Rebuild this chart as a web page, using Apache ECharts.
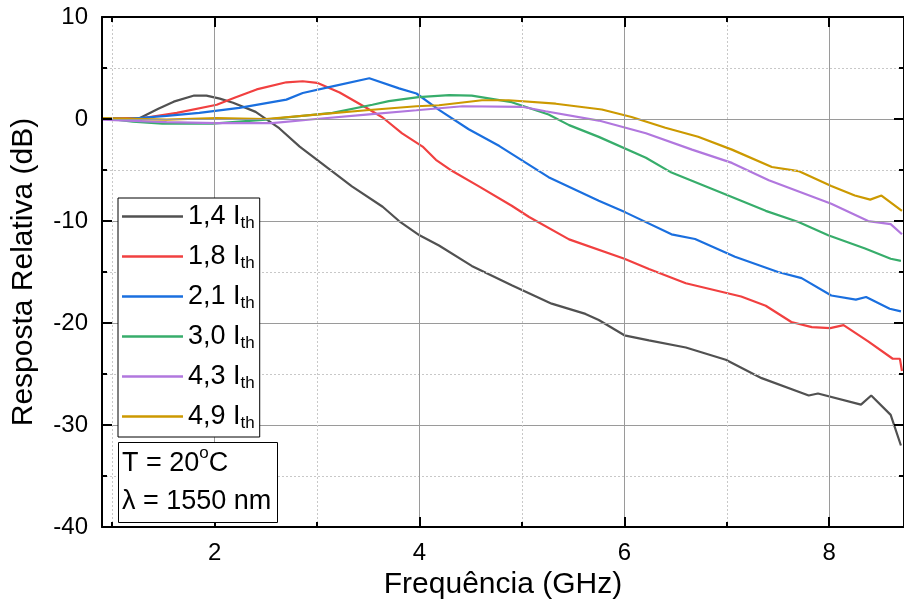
<!DOCTYPE html>
<html>
<head>
<meta charset="utf-8">
<script src="https://cdn.jsdelivr.net/npm/echarts@6/dist/echarts.min.js"></script>
<style>html,body{margin:0;padding:0;background:#fff}#c{width:904px;height:605px}</style>
</head>
<body>
<div id="c"></div>
<script>
// ---- data ----
const legendLabels = ['1,4', '1,8', '2,1', '3,0', '4,3', '4,9'];
const colors = ['#515151', '#F14040', '#1A6FDF', '#37AD6B', '#B177DE', '#CC9900'];

const f14 = [0.9, 1.05, 1.27, 1.45, 1.6, 1.8, 1.92, 2.05, 2.18, 2.4, 2.63, 2.83, 3.09, 3.34, 3.64, 3.8, 4.0, 4.19, 4.51, 4.9, 5.29, 5.62, 5.75, 6.0, 6.24, 6.6, 6.99, 7.34, 7.8, 7.89, 8.31, 8.41, 8.6, 8.70];
const r14 = [0.1, 0.05, 0.1, 1.0, 1.7, 2.3, 2.3, 2.0, 1.6, 0.7, -0.9, -2.7, -4.7, -6.6, -8.6, -10.0, -11.4, -12.4, -14.4, -16.3, -18.1, -19.1, -19.7, -21.2, -21.7, -22.4, -23.6, -25.4, -27.1, -26.9, -28.0, -27.1, -29.0, -32.0];

const f18 = [0.9, 1.27, 1.63, 2.02, 2.2, 2.41, 2.70, 2.86, 3.0, 3.22, 3.48, 3.64, 3.83, 4.03, 4.16, 4.32, 4.58, 4.9, 5.07, 5.46, 6.0, 6.24, 6.6, 7.14, 7.38, 7.63, 7.83, 8.01, 8.14, 8.38, 8.62, 8.69, 8.71];
const r18 = [0.1, 0.05, 0.6, 1.4, 2.1, 2.9, 3.6, 3.7, 3.55, 2.6, 1.1, 0.15, -1.4, -2.7, -4.0, -5.1, -6.6, -8.5, -9.6, -11.8, -13.7, -14.7, -16.1, -17.4, -18.3, -19.9, -20.4, -20.5, -20.2, -21.8, -23.5, -23.5, -24.7];

const f21 = [0.9, 1.14, 1.53, 1.85, 2.24, 2.70, 2.86, 3.15, 3.51, 3.80, 3.97, 4.19, 4.48, 4.78, 5.26, 5.75, 6.01, 6.46, 6.69, 7.08, 7.5, 7.73, 8.02, 8.26, 8.36, 8.59, 8.70];
const r21 = [0.1, 0.0, 0.3, 0.6, 1.1, 1.9, 2.55, 3.2, 4.0, 3.0, 2.5, 0.9, -1.0, -2.65, -5.7, -8.0, -9.15, -11.3, -11.76, -13.5, -15.0, -15.6, -17.3, -17.7, -17.45, -18.6, -18.85];

const f30 = [0.9, 1.2, 1.49, 1.98, 2.5, 3.15, 3.54, 3.7, 3.99, 4.29, 4.51, 4.9, 5.26, 5.46, 5.75, 6.21, 6.46, 6.99, 7.38, 7.70, 7.99, 8.35, 8.6, 8.70];
const r30 = [0.1, -0.25, -0.45, -0.45, -0.05, 0.6, 1.4, 1.75, 2.15, 2.35, 2.3, 1.65, 0.45, -0.6, -1.75, -3.8, -5.25, -7.4, -9.0, -10.1, -11.4, -12.7, -13.7, -13.9];

const f43 = [0.9, 1.53, 2.02, 2.56, 2.99, 3.48, 3.97, 4.42, 5.0, 5.23, 5.75, 6.21, 6.66, 7.05, 7.41, 8.02, 8.38, 8.6, 8.71];
const r43 = [-0.05, -0.3, -0.4, -0.4, 0, 0.44, 0.86, 1.25, 1.2, 0.76, -0.15, -1.4, -3.0, -4.3, -6.0, -8.3, -10.0, -10.3, -11.3];

const f49 = [0.9, 1.53, 2.02, 2.5, 2.99, 3.48, 3.97, 4.19, 4.61, 4.87, 5.33, 5.78, 6.07, 6.40, 6.72, 7.05, 7.44, 7.70, 8.02, 8.25, 8.40, 8.51, 8.71];
const r49 = [0.1, -0.05, 0.1, 0, 0.44, 0.86, 1.25, 1.35, 1.84, 1.84, 1.5, 0.93, 0.2, -0.86, -1.74, -3.0, -4.7, -5.1, -6.56, -7.5, -7.9, -7.5, -9.0];

const freqs = [f14, f18, f21, f30, f43, f49];
const resps = [r14, r18, r21, r30, r43, r49];

const xMin = 0.9, xMax = 8.73;
const yMin = -40, yMax = 10, yStep = 10;

const FONT = 'Liberation Sans, Arial, sans-serif';

// ---- chart ----
const chart = echarts.init(document.getElementById('c'), null, {renderer: 'canvas'});

const axisLineStyle = () => ({show: true, onZero: false, lineStyle: {color: '#000', width: 2}});
const tickStyle = () => ({show: true, inside: true, length: 10, lineStyle: {color: '#000', width: 2}});
const minorTickStyle = () => ({show: true, splitNumber: 2, length: 5, lineStyle: {color: '#000', width: 2}});
const splitStyle = () => ({show: true, lineStyle: {color: '#9a9a9a', width: 1, type: 'solid'}});
const minorSplitStyle = () => ({show: true, lineStyle: {color: '#c8c8c8', width: 1, type: [2, 2]}});

const series = legendLabels.map((lab, i) => ({
  name: lab,
  type: 'line',
  xAxisIndex: 0,
  yAxisIndex: 0,
  data: freqs[i].map((f, k) => [f, resps[i][k]]),
  symbol: 'none',
  showSymbol: false,
  lineStyle: {color: colors[i], width: 2.2},
  itemStyle: {color: colors[i]},
  clip: true,
  z: 3
}));

chart.setOption({
  animation: false,
  backgroundColor: '#fff',
  textStyle: {fontFamily: FONT},
  grid: {left: 102, right: -2, top: 17, bottom: 75.5, containLabel: false},
  xAxis: [{
    type: 'value', position: 'bottom', min: xMin, max: xMax,
    axisLine: axisLineStyle(), axisTick: tickStyle(), minorTick: minorTickStyle(),
    splitLine: splitStyle(), minorSplitLine: minorSplitStyle(),
    axisLabel: {show: true, color: '#000', fontSize: 24, fontFamily: FONT, margin: 14,
      showMinLabel: false, showMaxLabel: false,
      formatter: v => (Math.abs(v - Math.round(v)) < 1e-9 ? String(Math.round(v)) : '')},
    name: 'Frequência (GHz)', nameLocation: 'middle', nameGap: 33,
    nameTextStyle: {color: '#000', fontSize: 30, fontFamily: FONT},
    z: 5
  }, {
    type: 'value', position: 'top', min: xMin, max: xMax,
    axisLine: axisLineStyle(), axisTick: tickStyle(), minorTick: minorTickStyle(),
    splitLine: {show: false}, axisLabel: {show: false},
    z: 5
  }],
  yAxis: [{
    type: 'value', position: 'left', min: yMin, max: yMax, interval: yStep,
    axisLine: axisLineStyle(), axisTick: tickStyle(), minorTick: minorTickStyle(),
    splitLine: splitStyle(), minorSplitLine: minorSplitStyle(),
    axisLabel: {show: true, color: '#000', fontSize: 24, fontFamily: FONT, margin: 14},
    name: 'Resposta Relativa (dB)', nameLocation: 'middle', nameGap: 63,
    nameTextStyle: {color: '#000', fontSize: 30, fontFamily: FONT},
    z: 5
  }, {
    type: 'value', position: 'right', min: yMin, max: yMax, interval: yStep,
    axisLine: axisLineStyle(), axisTick: tickStyle(), minorTick: minorTickStyle(),
    splitLine: {show: false}, axisLabel: {show: false},
    z: 5
  }],
  legend: {
    show: true, orient: 'vertical', left: 118, top: 198,
    padding: [5, 5, 5, 4], itemGap: 11, itemWidth: 61, itemHeight: 2.5,
    icon: 'rect',
    backgroundColor: '#fff', borderColor: '#000', borderWidth: 1,
    data: legendLabels.map(n => ({name: n, icon: 'rect'})),
    formatter: name => '{a|' + name + ' I}{b|th}',
    textStyle: {
      color: '#000', fontFamily: FONT,
      rich: {
        a: {fontSize: 27, lineHeight: 31, fontFamily: FONT, color: '#000', fontWeight: 'normal'},
        b: {fontSize: 17, lineHeight: 12, verticalAlign: 'bottom', fontFamily: FONT, color: '#000', fontWeight: 'normal'}
      }
    },
    z: 10
  },
  title: {
    show: true, left: 118, top: 442,
    padding: [3, 6, 2, 4],
    backgroundColor: '#fff', borderColor: '#000', borderWidth: 1,
    text: '{a|T = 20}{s|o}{a|C}\n{a|λ = 1550 nm}',
    textStyle: {
      color: '#000', fontFamily: FONT, fontWeight: 'normal', lineHeight: 38,
      rich: {
        a: {fontSize: 27, lineHeight: 38, fontFamily: FONT, color: '#000', fontWeight: 'normal'},
        s: {fontSize: 17, lineHeight: 25, verticalAlign: 'top', fontFamily: FONT, color: '#000', fontWeight: 'normal'}
      }
    },
    z: 10
  },
  series: series
});
</script>
</body>
</html>
